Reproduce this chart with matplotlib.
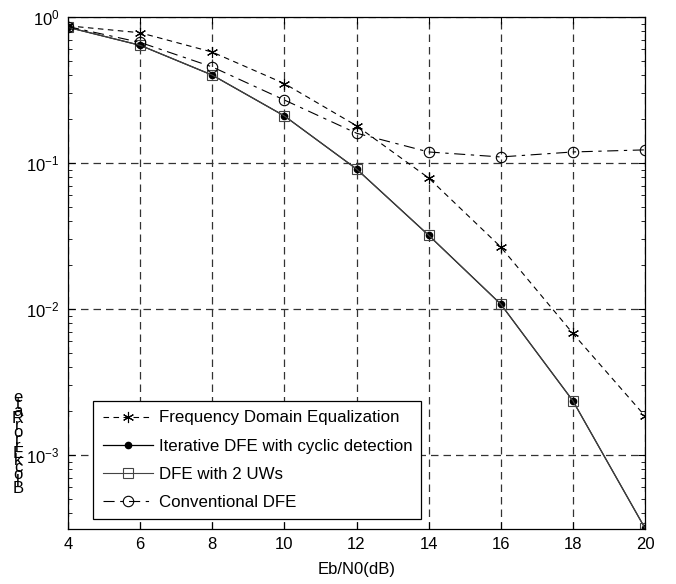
import matplotlib
matplotlib.use("Agg")
import matplotlib.pyplot as plt

plt.rcParams['font.family'] = ['Liberation Sans', 'DejaVu Sans']
plt.rcParams['font.size'] = 12

# Данные
ebn0 = [4, 6, 8, 10, 12, 14, 16, 18, 20]
fde = [0.87, 0.78, 0.575, 0.35, 0.18, 0.079, 0.0266, 0.0068, 0.00185]
iter_dfe = [0.85, 0.64, 0.40, 0.21, 0.091, 0.032, 0.0108, 0.00235, 0.000315]
dfe_2uw = [0.85, 0.64, 0.40, 0.21, 0.091, 0.032, 0.0108, 0.00235, 0.000315]
conv_dfe = [0.86, 0.67, 0.455, 0.27, 0.16, 0.119, 0.11, 0.119, 0.123]
labels = ["Frequency Domain Equalization",
          "Iterative DFE with cyclic detection",
          "DFE with 2 UWs",
          "Conventional DFE"]

fig = plt.figure(figsize=(6.76, 5.84), dpi=100)
ax = fig.add_axes([68 / 676, 1 - 529 / 584, 577 / 676, 512 / 584])

ax.plot(ebn0, fde, color="black", linestyle=(0, (5, 4)), linewidth=0.8,
        marker=(6, 2, 0), markersize=8, markeredgewidth=0.8, label=labels[0])
ax.plot(ebn0, iter_dfe, color="black", linestyle="-", linewidth=0.9,
        marker="o", markersize=4.5, label=labels[1])
ax.plot(ebn0, dfe_2uw, color="#444444", linestyle="-", linewidth=0.8,
        marker="s", markersize=7.5, markerfacecolor="none",
        markeredgewidth=0.8, label=labels[2])
ax.plot(ebn0, conv_dfe, color="black", linestyle=(0, (10, 5, 3, 5)),
        linewidth=0.8, marker="o", markersize=7.5, markerfacecolor="none",
        markeredgewidth=0.8, label=labels[3])

ax.set_yscale("log")
ax.set_xlim(4, 20)
ax.set_ylim(10 ** -3.507, 1)
ax.set_xticks(ebn0)
ax.grid(True, which="major", linestyle=(0, (6, 4)), color="#333333",
        linewidth=0.9)
ax.tick_params(which="both", direction="in", top=True, right=True)
ax.tick_params(which="major", length=5, labelsize=12, pad=6)
ax.tick_params(which="minor", length=3)
for s in ax.spines.values():
    s.set_linewidth(0.9)

ax.set_xlabel("Eb/N0(dB)", fontsize=12, labelpad=7)
# подпись оси Y как в оригинале: буквы стоят друг над другом
fig.text(18 / 676, 1 - 443 / 584, "\n".join(reversed("BlockErrorRate")),
         fontsize=12, linespacing=0.33, ha="center", va="center")

leg = ax.legend(loc="lower left", bbox_to_anchor=(0.038, 0.012),
                fancybox=False, edgecolor="black", framealpha=1,
                handlelength=3.0, handletextpad=0.3, borderpad=0.55,
                labelspacing=0.78, fontsize=12.2, borderaxespad=0.2)
leg.get_frame().set_linewidth(0.9)

plt.savefig("out.png", dpi=100)
